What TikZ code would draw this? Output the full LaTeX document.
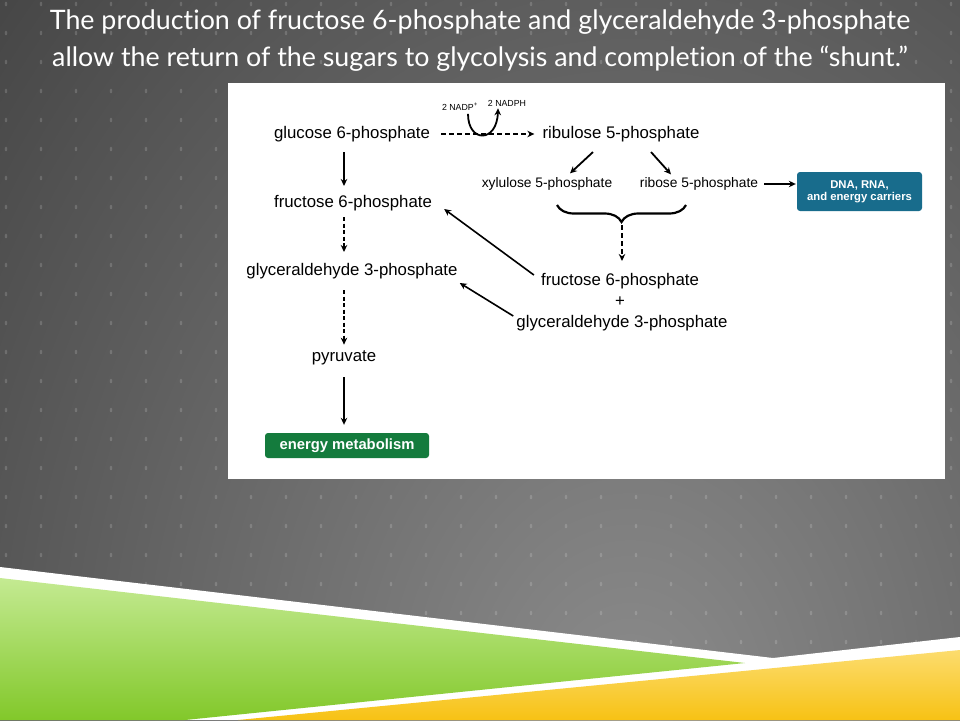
\documentclass[tikz,border=0pt]{standalone}
\usepackage{fontspec}
\setmainfont{Liberation Sans}
\newfontfamily\titlefont[Ligatures={NoCommon}]{Lato}
\usetikzlibrary{arrows.meta,decorations.pathreplacing}

\definecolor{bgdark}{HTML}{393939}
\definecolor{bglight}{HTML}{8C8C8C}
\definecolor{dnablue}{HTML}{186C8C}
\definecolor{energygreen}{HTML}{147B3D}
\definecolor{leafgreen}{HTML}{82C82A}
\definecolor{leaflight}{HTML}{C4EA92}
\definecolor{sunyellow}{HTML}{F7C214}
\definecolor{sunlight}{HTML}{FCDC6E}

\tikzset{
  lbl/.style={font=\fontsize{16.8}{18}\selectfont, inner sep=0pt},
  smalllbl/.style={font=\fontsize{13.8}{15}\selectfont, inner sep=0pt},
  notelbl/.style={font=\fontsize{8.8}{10}\selectfont, inner sep=0pt},
  pathbox/.style={rounded corners=3pt, text=white, align=center, inner sep=0pt},
  solidarrow/.style={->, line width=1.8pt},
  dasharrow/.style={->, line width=1.4pt, dash pattern=on 5pt off 3pt},
}

\begin{document}
\begin{tikzpicture}[x=1pt, y=-1pt, >={Stealth[length=7pt,width=6.5pt]}]
    \useasboundingbox (0,0) rectangle (960,720);

    % 1. Background of the slide
    \fill[bgdark] (0,0) rectangle (960,720);
    \begin{scope}
        \clip (0,0) rectangle (960,720);
        \shade[inner color=bglight, outer color=bgdark] (630,720) ellipse (1000 and 1300);
    \end{scope}
    % dot grid
    \foreach \x in {6,41,...,951} {
        \foreach \y in {4,33,...,700} {
            \fill[white, opacity=0.16] (\x,\y) ellipse (1.3 and 2.3);
        }
    }

    % 2. Bands at the bottom
    \fill[white] (0,567) -- (773,658) -- (960,637) -- (960,720) -- (0,720) -- cycle;
    \shade[top color=leaflight, bottom color=leafgreen] (0,578) -- (745,663) -- (185,720) -- (0,720) -- cycle;
    \shade[top color=sunlight, bottom color=sunyellow] (960,650) -- (960,720) -- (238,720) -- cycle;

    % 3. Title
    \node[text=white, align=center, font=\titlefont\fontsize{26.8}{37}\selectfont] (title) at (480,41)
        {The production of fructose 6-phosphate and glyceraldehyde 3-phosphate\\
         allow the return of the sugars to glycolysis and completion of the “shunt.”};

    % 4. White panel
    \fill[white] (228,83) rectangle (945,479);

    % 5. Pathway labels
    \node[lbl] (glucose)   at (352,134) {glucose 6-phosphate};
    \node[lbl] (ribulose)  at (621,134) {ribulose 5-phosphate};
    \node[smalllbl] (xylulose) at (547,184) {xylulose 5-phosphate};
    \node[smalllbl] (ribose)   at (699,184) {ribose 5-phosphate};
    \node[pathbox, fill=dnablue, minimum width=125, minimum height=39,
          font=\bfseries\fontsize{11.3}{12}\selectfont] (carriers) at (859.5,191.5)
        {DNA, RNA,\\and energy carriers};
    \node[lbl] (fructoseL) at (353,203) {fructose 6-phosphate};
    \node[lbl] (gapL)      at (352,271) {glyceraldehyde 3-phosphate};
    \node[lbl] (pyruvate)  at (344,358) {pyruvate};
    \node[pathbox, fill=energygreen, minimum width=164, minimum height=25,
          font=\bfseries\fontsize{14.8}{16}\selectfont] (energy) at (347,445.5) {energy metabolism};
    \node[lbl] (fructoseR) at (620,281) {fructose 6-phosphate};
    \node[lbl] (plus)      at (620,302) {+};
    \node[lbl] (gapR)      at (622,323) {glyceraldehyde 3-phosphate};
    \node[notelbl] (nadp)  at (460,107) {2 NADP\textsuperscript{+}};
    \node[notelbl] (nadph) at (507,103) {2 NADPH};

    % brace under the two pentoses
    \coordinate (braceL) at (557,205);
    \coordinate (braceR) at (686,205);
    \coordinate (braceTip) at (622,225);
    \draw[line width=2.2pt, decorate, decoration={brace, mirror, amplitude=17pt}] (braceL) -- (braceR);

    % 6. Arrows
    \draw[dasharrow, shorten <=11pt, shorten >=8pt] (glucose) -- (ribulose);
    \draw[->, line width=1.8pt] ([xshift=8pt,yshift=-3pt]nadp.south) .. controls (468,143) and (497,143) .. ([xshift=-9pt,yshift=-2pt]nadph.south);
    \draw[solidarrow] ([xshift=-28pt,yshift=-10pt]ribulose.south) -- ([xshift=23pt,yshift=4pt]xylulose.north);
    \draw[solidarrow] ([xshift=30pt,yshift=-10pt]ribulose.south) -- ([xshift=-28pt,yshift=3pt]ribose.north);
    \draw[solidarrow, shorten <=6pt, shorten >=1pt] (ribose.east) -- (ribose.east -| carriers.west);
    \draw[dasharrow] (braceTip) -- ([yshift=12pt]braceTip |- fructoseR.north);

    \draw[solidarrow, line width=2pt, shorten <=10pt, shorten >=9pt] (glucose.south -| pyruvate) -- (fructoseL.north -| pyruvate);
    \draw[dasharrow, dash pattern=on 4pt off 2.5pt, shorten <=6pt, shorten >=11pt] (fructoseL.south -| pyruvate) -- (gapL.north -| pyruvate);
    \draw[dasharrow, dash pattern=on 4pt off 2.5pt, shorten <=11pt, shorten >=6pt] (gapL.south -| pyruvate) -- (pyruvate.north);
    \draw[solidarrow, line width=2pt, shorten <=12pt, shorten >=8pt] (pyruvate.south) -- (energy.north -| pyruvate);

    \draw[solidarrow, line width=1.6pt] ([xshift=-7pt,yshift=6pt]fructoseR.west) -- ([xshift=12pt,yshift=-6pt]fructoseL.east);
    \draw[solidarrow, line width=1.6pt] ([xshift=-3pt,yshift=7pt]gapR.west) -- ([xshift=2pt,yshift=-12pt]gapL.east);
\end{tikzpicture}
\end{document}
